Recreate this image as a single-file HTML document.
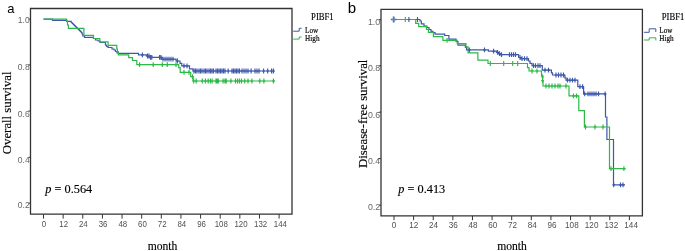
<!DOCTYPE html>
<html><head><meta charset="utf-8"><style>
html,body{margin:0;padding:0;background:#fff;}
body{width:685px;height:251px;overflow:hidden;}
svg{display:block;will-change:transform;filter:blur(0.3px);}
text{font-family:"Liberation Serif",serif;}
.b{stroke:#000;stroke-width:0.15px;}
.s{font-family:"Liberation Sans",sans-serif;}
</style></head><body>
<svg width="685" height="251" viewBox="0 0 685 251">
<rect width="685" height="251" fill="#fff"/>

<path d="M30.5 8.5H292V214.2H30.5Z" fill="none" stroke="#333" stroke-width="1.3"/>
<path d="M28.5 19.2H30.5M28.5 65H30.5M28.5 111H30.5M28.5 157.3H30.5M28.5 203.2H30.5M43.52 214.2V218.6M63.15 214.2V218.6M82.78 214.2V218.6M102.42 214.2V218.6M122.05 214.2V218.6M141.68 214.2V218.6M161.31 214.2V218.6M180.94 214.2V218.6M200.58 214.2V218.6M220.21 214.2V218.6M239.84 214.2V218.6M259.47 214.2V218.6M279.1 214.2V218.6" stroke="#333" stroke-width="1" fill="none"/>
<text class="s" x="29.7" y="23" font-size="8.5" fill="#666" text-anchor="end">1.0</text>
<text class="s" x="29.7" y="69.6" font-size="8.5" fill="#666" text-anchor="end">0.8</text>
<text class="s" x="29.7" y="116.5" font-size="8.5" fill="#666" text-anchor="end">0.6</text>
<text class="s" x="29.7" y="162.7" font-size="8.5" fill="#666" text-anchor="end">0.4</text>
<text class="s" x="29.7" y="208.2" font-size="8.5" fill="#666" text-anchor="end">0.2</text>
<text class="s" transform="translate(43.94 226.6) scale(0.95 1)" font-size="8.3" fill="#505050" text-anchor="middle">0</text>
<text class="s" transform="translate(63.64 226.6) scale(0.95 1)" font-size="8.3" fill="#505050" text-anchor="middle">12</text>
<text class="s" transform="translate(83.35 226.6) scale(0.95 1)" font-size="8.3" fill="#505050" text-anchor="middle">24</text>
<text class="s" transform="translate(103.05 226.6) scale(0.95 1)" font-size="8.3" fill="#505050" text-anchor="middle">36</text>
<text class="s" transform="translate(122.76 226.6) scale(0.95 1)" font-size="8.3" fill="#505050" text-anchor="middle">48</text>
<text class="s" transform="translate(142.46 226.6) scale(0.95 1)" font-size="8.3" fill="#505050" text-anchor="middle">60</text>
<text class="s" transform="translate(162.16 226.6) scale(0.95 1)" font-size="8.3" fill="#505050" text-anchor="middle">72</text>
<text class="s" transform="translate(181.87 226.6) scale(0.95 1)" font-size="8.3" fill="#505050" text-anchor="middle">84</text>
<text class="s" transform="translate(201.57 226.6) scale(0.95 1)" font-size="8.3" fill="#505050" text-anchor="middle">96</text>
<text class="s" transform="translate(221.28 226.6) scale(0.95 1)" font-size="8.3" fill="#505050" text-anchor="middle">108</text>
<text class="s" transform="translate(240.98 226.6) scale(0.95 1)" font-size="8.3" fill="#505050" text-anchor="middle">120</text>
<text class="s" transform="translate(260.68 226.6) scale(0.95 1)" font-size="8.3" fill="#505050" text-anchor="middle">132</text>
<text class="s" transform="translate(280.39 226.6) scale(0.95 1)" font-size="8.3" fill="#505050" text-anchor="middle">144</text>
<path d="M381 9.3H642.4V215.8H381Z" fill="none" stroke="#333" stroke-width="1.3"/>
<path d="M379 19.7H381M379 65.8H381M379 112.2H381M379 158.6H381M379 205.2H381M394 215.8V220.2M413.62 215.8V220.2M433.23 215.8V220.2M452.85 215.8V220.2M472.47 215.8V220.2M492.08 215.8V220.2M511.7 215.8V220.2M531.31 215.8V220.2M550.93 215.8V220.2M570.55 215.8V220.2M590.16 215.8V220.2M609.78 215.8V220.2M629.4 215.8V220.2" stroke="#333" stroke-width="1" fill="none"/>
<text class="s" x="380.2" y="24.8" font-size="8.8" fill="#666" text-anchor="end">1.0</text>
<text class="s" x="380.2" y="71.4" font-size="8.8" fill="#666" text-anchor="end">0.8</text>
<text class="s" x="380.2" y="117.8" font-size="8.8" fill="#666" text-anchor="end">0.6</text>
<text class="s" x="380.2" y="164" font-size="8.8" fill="#666" text-anchor="end">0.4</text>
<text class="s" x="380.2" y="210.2" font-size="8.8" fill="#666" text-anchor="end">0.2</text>
<text class="s" transform="translate(394.1 227.9) scale(0.97 1)" font-size="8.4" fill="#505050" text-anchor="middle">0</text>
<text class="s" transform="translate(413.85 227.9) scale(0.97 1)" font-size="8.4" fill="#505050" text-anchor="middle">12</text>
<text class="s" transform="translate(433.6 227.9) scale(0.97 1)" font-size="8.4" fill="#505050" text-anchor="middle">24</text>
<text class="s" transform="translate(453.36 227.9) scale(0.97 1)" font-size="8.4" fill="#505050" text-anchor="middle">36</text>
<text class="s" transform="translate(473.11 227.9) scale(0.97 1)" font-size="8.4" fill="#505050" text-anchor="middle">48</text>
<text class="s" transform="translate(492.86 227.9) scale(0.97 1)" font-size="8.4" fill="#505050" text-anchor="middle">60</text>
<text class="s" transform="translate(512.61 227.9) scale(0.97 1)" font-size="8.4" fill="#505050" text-anchor="middle">72</text>
<text class="s" transform="translate(532.36 227.9) scale(0.97 1)" font-size="8.4" fill="#505050" text-anchor="middle">84</text>
<text class="s" transform="translate(552.12 227.9) scale(0.97 1)" font-size="8.4" fill="#505050" text-anchor="middle">96</text>
<text class="s" transform="translate(571.87 227.9) scale(0.97 1)" font-size="8.4" fill="#505050" text-anchor="middle">108</text>
<text class="s" transform="translate(591.62 227.9) scale(0.97 1)" font-size="8.4" fill="#505050" text-anchor="middle">120</text>
<text class="s" transform="translate(611.37 227.9) scale(0.97 1)" font-size="8.4" fill="#505050" text-anchor="middle">132</text>
<text class="s" transform="translate(631.12 227.9) scale(0.97 1)" font-size="8.4" fill="#505050" text-anchor="middle">144</text>
<path d="M43.5 19.2H52.5V20.3H66.5V21.4H71.2V22.5H72.2V23.5H73.2V24.5H74.2V25.5H75.2V26.5H76.2V27.5H77.2V28.5H78.2V29.5H79.2V30.5H80.2V31.5H81.2V32.5H82V34H82.8V36H84.5V37.3H93.5V38.5H95.5V40H98V41H100V42.5H105.4V45H106.5V46.5H108V47.5H112V49H114V50H115.5V51.5H117V53H118.5V53.4H138.5V54.8H146.4V56H149.2V57.4H161.5V59.2H176V61H180V63.4H181.8V65.8H189.5V68.8H193V71H274.5" stroke="#3E58AC" stroke-width="1.2" fill="none"/>
<path d="M43.5 19.2H66.7V21H67.5V25H68.4V28.4H83.9V35.3H93.5V38.5H99.8V41.8H108.1V45.3H116.8V49H117.5V51.5H118.3V54.8H128.7V57.7H132.5V60.5H136.8V64.6H178.7V67.6H180.2V72.4H190.7V76.6H193V81H275.1" stroke="#2EB848" stroke-width="1.2" fill="none"/>
<path d="M142.4 52.4V57.2M141 54.8H143.8M147.5 53.6V58.4M146.1 56H148.9M149 53.6V58.4M147.6 56H150.4M150.5 55V59.8M149.1 57.4H151.9M151.8 55V59.8M150.4 57.4H153.2M159.6 55V59.8M158.2 57.4H161M161 55V59.8M159.6 57.4H162.4M163 56.8V61.6M161.6 59.2H164.4M165 56.8V61.6M163.6 59.2H166.4M167 56.8V61.6M165.6 59.2H168.4M169 56.8V61.6M167.6 59.2H170.4M171 56.8V61.6M169.6 59.2H172.4M173 56.8V61.6M171.6 59.2H174.4M177.4 58.6V63.4M176 61H178.8M184 63.4V68.2M182.6 65.8H185.4M187 63.4V68.2M185.6 65.8H188.4M194 68.6V73.4M192.6 71H195.4M195.5 68.6V73.4M194.1 71H196.9M197 68.6V73.4M195.6 71H198.4M199 68.6V73.4M197.6 71H200.4M200.5 68.6V73.4M199.1 71H201.9M202 68.6V73.4M200.6 71H203.4M204 68.6V73.4M202.6 71H205.4M205.5 68.6V73.4M204.1 71H206.9M207 68.6V73.4M205.6 71H208.4M209 68.6V73.4M207.6 71H210.4M210.5 68.6V73.4M209.1 71H211.9M212 68.6V73.4M210.6 71H213.4M213.5 68.6V73.4M212.1 71H214.9M216 68.6V73.4M214.6 71H217.4M217.5 68.6V73.4M216.1 71H218.9M219 68.6V73.4M217.6 71H220.4M220.5 68.6V73.4M219.1 71H221.9M222 68.6V73.4M220.6 71H223.4M223.5 68.6V73.4M222.1 71H224.9M225 68.6V73.4M223.6 71H226.4M228.2 68.6V73.4M226.8 71H229.6M232 68.6V73.4M230.6 71H233.4M233.5 68.6V73.4M232.1 71H234.9M235 68.6V73.4M233.6 71H236.4M236.5 68.6V73.4M235.1 71H237.9M238 68.6V73.4M236.6 71H239.4M239.5 68.6V73.4M238.1 71H240.9M242 68.6V73.4M240.6 71H243.4M244 68.6V73.4M242.6 71H245.4M246 68.6V73.4M244.6 71H247.4M248 68.6V73.4M246.6 71H249.4M251.1 68.6V73.4M249.7 71H252.5M255 68.6V73.4M253.6 71H256.4M257 68.6V73.4M255.6 71H258.4M259 68.6V73.4M257.6 71H260.4M263.6 68.6V73.4M262.2 71H265M267.7 68.6V73.4M266.3 71H269.1M271.6 68.6V73.4M270.2 71H273M273.4 68.6V73.4M272 71H274.8" stroke="#3E58AC" stroke-width="1.15" fill="none"/>
<path d="M139.6 62.2V67M138.2 64.6H141M153.2 62.2V67M151.8 64.6H154.6M162.3 62.2V67M160.9 64.6H163.7M167.3 62.2V67M165.9 64.6H168.7M176 62.2V67M174.6 64.6H177.4M184 70V74.8M182.6 72.4H185.4M189 70V74.8M187.6 72.4H190.4M192.5 74.2V79M191.1 76.6H193.9M193.7 78.6V83.4M192.3 81H195.1M196.2 78.6V83.4M194.8 81H197.6M202.3 78.6V83.4M200.9 81H203.7M205.4 78.6V83.4M204 81H206.8M208.2 78.6V83.4M206.8 81H209.6M210.4 78.6V83.4M209 81H211.8M212.1 78.6V83.4M210.7 81H213.5M216 78.6V83.4M214.6 81H217.4M217.1 78.6V83.4M215.7 81H218.5M218.3 78.6V83.4M216.9 81H219.7M223.1 78.6V83.4M221.7 81H224.5M225 78.6V83.4M223.6 81H226.4M226.2 78.6V83.4M224.8 81H227.6M230.9 78.6V83.4M229.5 81H232.3M235.6 78.6V83.4M234.2 81H237M237.6 78.6V83.4M236.2 81H239M239.5 78.6V83.4M238.1 81H240.9M241.5 78.6V83.4M240.1 81H242.9M244.7 78.6V83.4M243.3 81H246.1M248 78.6V83.4M246.6 81H249.4M251.9 78.6V83.4M250.5 81H253.3M259.8 78.6V83.4M258.4 81H261.2M263.9 78.6V83.4M262.5 81H265.3M273.4 78.6V83.4M272 81H274.8" stroke="#2EB848" stroke-width="1.15" fill="none"/>
<path d="M393.6 19.5H420V21H421.3V23.9H424V26.1H426.9V27.5H429V29.5H431V31.3H433V32.5H435V34.1H444.7V35.5H448.9V39.1H456V41.5H458V45.1H465.4V47.5H466.5V49.9H488.4V51.2H496.4V52.4H498V53.6H500.8V54.6H518.6V57.5H521V58.6H528.5V61H530V63.3H532V65.7H542.3V70.1H551.4V72.8H552.5V75H564.9V77.8H566V80.2H577.8V86.6H583.6V93.8H605.5V117H606.9V139.5H613.5V184.8H625" stroke="#3E58AC" stroke-width="1.2" fill="none"/>
<path d="M393.6 19.5H415.7V23.3H418.7V26.6H426.4V29.3H428.4V32.3H433.4V36.7H442.9V40.3H457.2V43.6H466V46.9H468.1V52.9H477.9V60.1H488V63.5H527.5V67.6H529V71H541.5V75.8H542.6V80.6H543V86H569V95.8H578.8V110.7H584.4V127H609.5V168.6H625.7" stroke="#2EB848" stroke-width="1.2" fill="none"/>
<path d="M393.6 17.1V21.9M392.2 19.5H395M408.9 17.1V21.9M407.5 19.5H410.3M417.5 17.1V21.9M416.1 19.5H418.9M469.3 47.5V52.3M467.9 49.9H470.7M484.5 47.5V52.3M483.1 49.9H485.9M493.6 48.8V53.6M492.2 51.2H495M497.5 50V54.8M496.1 52.4H498.9M499.5 51.2V56M498.1 53.6H500.9M501.5 52.2V57M500.1 54.6H502.9M509.5 52.2V57M508.1 54.6H510.9M511.5 52.2V57M510.1 54.6H512.9M513.5 52.2V57M512.1 54.6H514.9M515.5 52.2V57M514.1 54.6H516.9M520 55.1V59.9M518.6 57.5H521.4M522 56.2V61M520.6 58.6H523.4M524.5 56.2V61M523.1 58.6H525.9M527 56.2V61M525.6 58.6H528.4M533.5 63.3V68.1M532.1 65.7H534.9M535.5 63.3V68.1M534.1 65.7H536.9M538 63.3V68.1M536.6 65.7H539.4M540 63.3V68.1M538.6 65.7H541.4M545 67.7V72.5M543.6 70.1H546.4M548.5 67.7V72.5M547.1 70.1H549.9M556 72.6V77.4M554.6 75H557.4M558.5 72.6V77.4M557.1 75H559.9M561 72.6V77.4M559.6 75H562.4M563.5 72.6V77.4M562.1 75H564.9M567.5 77.8V82.6M566.1 80.2H568.9M570 77.8V82.6M568.6 80.2H571.4M572.5 77.8V82.6M571.1 80.2H573.9M575 77.8V82.6M573.6 80.2H576.4M580 84.2V89M578.6 86.6H581.4M582.6 84.2V89M581.2 86.6H584M584.7 91.4V96.2M583.3 93.8H586.1M588 91.4V96.2M586.6 93.8H589.4M590 91.4V96.2M588.6 93.8H591.4M592 91.4V96.2M590.6 93.8H593.4M594 91.4V96.2M592.6 93.8H595.4M596 91.4V96.2M594.6 93.8H597.4M598.5 91.4V96.2M597.1 93.8H599.9M605.1 91.4V96.2M603.7 93.8H606.5M613.7 182.4V187.2M612.3 184.8H615.1M620.5 182.4V187.2M619.1 184.8H621.9M623 182.4V187.2M621.6 184.8H624.4" stroke="#3E58AC" stroke-width="1.15" fill="none"/>
<path d="M393.6 17.1V21.9M392.2 19.5H395M405.3 17.1V21.9M403.9 19.5H406.7M447.1 37.9V42.7M445.7 40.3H448.5M490.3 61.1V65.9M488.9 63.5H491.7M503.7 61.1V65.9M502.3 63.5H505.1M512.7 61.1V65.9M511.3 63.5H514.1M517.7 61.1V65.9M516.3 63.5H519.1M532 68.6V73.4M530.6 71H533.4M537 68.6V73.4M535.6 71H538.4M542.6 74.6V79.4M541.2 77H544M542.6 78.2V83M541.2 80.6H544M546 83.6V88.4M544.6 86H547.4M549 83.6V88.4M547.6 86H550.4M552 83.6V88.4M550.6 86H553.4M555 83.6V88.4M553.6 86H556.4M558 83.6V88.4M556.6 86H559.4M560 83.6V88.4M558.6 86H561.4M566 83.6V88.4M564.6 86H567.4M573.5 93.4V98.2M572.1 95.8H574.9M576.5 93.4V98.2M575.1 95.8H577.9M585.5 124.6V129.4M584.1 127H586.9M595 124.6V129.4M593.6 127H596.4M603 124.6V129.4M601.6 127H604.4M611 166.2V171M609.6 168.6H612.4M623.9 166.2V171M622.5 168.6H625.3" stroke="#2EB848" stroke-width="1.15" fill="none"/>
<path d="M393.6 16.6V22.4M390.8 19.5H396.4" stroke="#3E58AC" stroke-width="1.6" fill="none"/>
<path d="M393.6 17.2V21.8M391.4 19.5H395.8" stroke="#2EB848" stroke-width="0.9" fill="none"/>
<text class="s" x="7.3" y="12.6" font-size="13">a</text>
<text class="s" x="347.8" y="12.6" font-size="15">b</text>
<text class="b" x="0" y="0" font-size="12.8" fill="#000" transform="translate(11,154.2) rotate(-90)">Overall survival</text>
<text class="b" x="0" y="0" font-size="12.8" fill="#000" transform="translate(367,168) rotate(-90)">Disease-free survival</text>
<text class="b" x="45.3" y="193.1" font-size="12.3" fill="#000"><tspan font-style="italic">p</tspan> = 0.564</text>
<text class="b" x="398.3" y="193.1" font-size="12.3" fill="#000"><tspan font-style="italic">p</tspan> = 0.413</text>
<text class="b" x="162.5" y="249.8" font-size="11.6" fill="#000" text-anchor="middle">month</text>
<text class="b" x="512" y="249.8" font-size="11.6" fill="#000" text-anchor="middle">month</text>
<text class="b" x="311.1" y="20.1" font-size="10" fill="#000" textLength="22.6" lengthAdjust="spacingAndGlyphs">PIBF1</text>
<text class="b" x="305.1" y="33.3" font-size="7.2" fill="#000">Low</text>
<text class="b" x="305.1" y="40.8" font-size="7.2" fill="#000">High</text>
<text class="b" x="661.7" y="20.1" font-size="10" fill="#000" textLength="22.6" lengthAdjust="spacingAndGlyphs">PIBF1</text>
<text class="b" x="659.3" y="33.3" font-size="7.2" fill="#000">Low</text>
<text class="b" x="659.3" y="40.8" font-size="7.2" fill="#000">High</text>
<path d="M293.2 31.2H299.2V28.3H301.6" stroke="#3E58AC" stroke-width="1" fill="none"/>
<path d="M293.2 39.1H299.2V37H301.6" stroke="#2EB848" stroke-width="1" fill="none"/>
<path d="M643.9 32.3H649.2V28.8H655.8V32" stroke="#3E58AC" stroke-width="1" fill="none"/>
<path d="M643.9 40H649.2V37.8H655.8V40.4" stroke="#2EB848" stroke-width="1" fill="none"/>
</svg></body></html>
